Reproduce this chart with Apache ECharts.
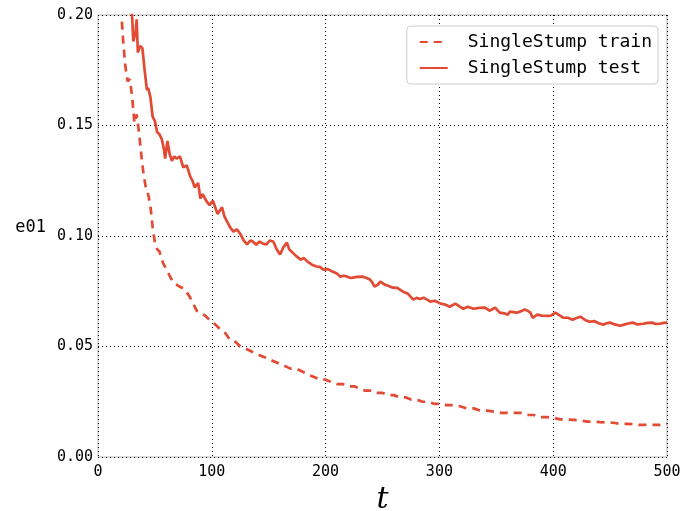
<!DOCTYPE html>
<html>
<head>
<meta charset="utf-8">
<script src="https://cdn.jsdelivr.net/npm/echarts@6/dist/echarts.min.js"></script>
<style>
  html, body { margin: 0; padding: 0; background: #fff; }
  #chart { width: 683px; height: 511px; }
</style>
</head>
<body>
<div id="chart"></div>
<script>
// Training error of the single-stump booster over iterations t
const trainT = [21,22,24,26,28,30,32,34,36,38,40,42,44,46,48,50,52,54,57,60,63,66,69,72,76,80,84,87,90,94,98,103,107,112,116,121,125,130,134,138,142,147,151,156,160,165,169,174,178,182,186,191,195,200,205,210,215,220,225,230,235,240,245,250,256,260,265,270,275,280,285,290,296,301,306,312,318,324,330,336,342,348,353,359,365,371,377,383,388,394,400,406,412,418,424,430,436,441,447,453,459,465,471,476,482,488,494,500];
const trainErr = [0.197,0.189,0.177,0.170,0.171,0.163,0.151,0.155,0.147,0.137,0.128,0.122,0.119,0.114,0.104,0.097,0.094,0.093,0.088,0.085,0.082,0.079,0.078,0.077,0.076,0.073,0.069,0.066,0.065,0.064,0.062,0.060,0.058,0.056,0.053,0.052,0.050,0.049,0.048,0.047,0.046,0.045,0.044,0.043,0.042,0.041,0.040,0.040,0.039,0.038,0.037,0.036,0.035,0.035,0.034,0.033,0.033,0.032,0.032,0.031,0.030,0.030,0.029,0.029,0.028,0.028,0.027,0.027,0.026,0.026,0.025,0.025,0.024,0.024,0.0235,0.0235,0.023,0.022,0.022,0.021,0.021,0.0205,0.020,0.020,0.020,0.020,0.019,0.019,0.018,0.018,0.0178,0.017,0.017,0.0168,0.0165,0.016,0.016,0.0158,0.0156,0.0155,0.015,0.015,0.0148,0.0145,0.0145,0.0145,0.0145,0.015];

// Test error of the same model
const testT = [27,30,31,33,34,35,37,39,40,41,43,44,46,48,50,52,54,56,58,59,61,63,65,67,69,72,75,78,81,83,85,88,90,92,95,98,101,105,109,111,113,116,119,122,125,128,131,134,136,139,142,145,148,151,154,157,160,163,166,168,170,174,178,181,184,188,192,195,198,202,206,210,213,216,219,222,224,228,233,236,239,241,243,246,248,252,255,259,263,268,272,277,280,283,286,290,292,296,301,305,309,314,318,321,325,330,335,340,344,349,353,357,360,362,368,372,375,378,380,382,386,390,395,398,402,406,409,413,417,420,424,428,432,436,440,444,447,450,454,459,463,467,470,474,479,483,487,490,494,497,500];
const testErr = [0.212,0.1995,0.188,0.192,0.198,0.183,0.186,0.185,0.185,0.175,0.166,0.167,0.163,0.154,0.152,0.147,0.146,0.144,0.139,0.135,0.143,0.137,0.134,0.136,0.135,0.136,0.131,0.132,0.127,0.125,0.122,0.124,0.117,0.119,0.116,0.114,0.116,0.110,0.113,0.109,0.107,0.104,0.102,0.103,0.101,0.098,0.0962,0.098,0.0975,0.096,0.0975,0.0965,0.0962,0.098,0.0975,0.094,0.0916,0.095,0.097,0.094,0.093,0.091,0.0893,0.090,0.0884,0.087,0.0862,0.086,0.0848,0.085,0.0839,0.083,0.0816,0.082,0.0816,0.081,0.0812,0.0815,0.0816,0.081,0.0803,0.079,0.0771,0.078,0.0794,0.078,0.0775,0.0766,0.0765,0.0748,0.074,0.0712,0.072,0.0715,0.0721,0.071,0.0703,0.0707,0.0694,0.069,0.0680,0.0694,0.068,0.0671,0.068,0.0671,0.0675,0.0676,0.0662,0.0676,0.0653,0.065,0.0644,0.0658,0.0653,0.066,0.0667,0.066,0.0653,0.0630,0.0644,0.064,0.0639,0.064,0.0653,0.064,0.0630,0.063,0.0621,0.0628,0.0635,0.062,0.0612,0.0615,0.0605,0.0599,0.0605,0.0608,0.0600,0.0594,0.060,0.0605,0.0608,0.0600,0.0603,0.0607,0.0608,0.0602,0.0603,0.0607,0.0608];

const xTicks = { min: 0, max: 500, step: 100 };
const yTicks = { min: 0, max: 0.2, step: 0.05 };

const RED = '#e24a33';
const MONO = '"DejaVu Sans Mono", monospace';

const pairs = (xs, ys) => xs.map((x, i) => [x, ys[i]]);

const chart = echarts.init(document.getElementById('chart'), null, { renderer: 'canvas' });

const gridLine = { show: true, lineStyle: { color: '#000', type: [1, 3], width: 1 } };

chart.setOption({
  animation: false,
  backgroundColor: '#fff',
  grid: {
    left: 98, right: 16, top: 15, bottom: 54,
    outerBoundsMode: 'none', containLabel: false,
    show: true, borderColor: '#b8b8b8', borderWidth: 1
  },
  legend: {
    orient: 'vertical',
    right: 25, top: 26,
    itemWidth: 28, itemHeight: 18, itemGap: 8,
    padding: [7, 6, 7, 12],
    backgroundColor: '#fff',
    borderColor: '#cccccc', borderWidth: 1, borderRadius: 4,
    itemStyle: { opacity: 0 },
    textStyle: { fontFamily: MONO, fontSize: 18, color: '#000', lineHeight: 18, padding: [0, 0, 0, 15] },
    data: ['SingleStump train', 'SingleStump test']
  },
  xAxis: {
    type: 'value', min: xTicks.min, max: xTicks.max, interval: xTicks.step,
    name: 't', nameLocation: 'middle', nameGap: 27,
    nameTextStyle: { fontFamily: '"DejaVu Serif", serif', fontStyle: 'italic', fontSize: 30, color: '#000' },
    axisLine: { show: false },
    axisTick: { show: false },
    axisLabel: { fontFamily: MONO, fontSize: 15, color: '#000', margin: 8 },
    splitLine: gridLine
  },
  yAxis: {
    type: 'value', min: yTicks.min, max: yTicks.max, interval: yTicks.step,
    name: 'e01', nameLocation: 'middle', nameRotate: 0, nameGap: 52,
    nameTextStyle: { fontFamily: MONO, fontSize: 17, color: '#000', verticalAlign: 'bottom' },
    axisLine: { show: false },
    axisTick: { show: false },
    axisLabel: { fontFamily: MONO, fontSize: 15, color: '#000', margin: 5, formatter: v => v.toFixed(2) },
    splitLine: gridLine
  },
  series: [
    {
      name: 'SingleStump train', type: 'line', data: pairs(trainT, trainErr),
      symbol: 'none', clip: true,
      lineStyle: { color: RED, width: 2.7, type: [8, 6] },
      itemStyle: { color: RED }
    },
    {
      name: 'SingleStump test', type: 'line', data: pairs(testT, testErr),
      symbol: 'none', clip: true,
      lineStyle: { color: RED, width: 2.7, type: 'solid' },
      itemStyle: { color: RED }
    }
  ]
});
</script>
</body>
</html>
